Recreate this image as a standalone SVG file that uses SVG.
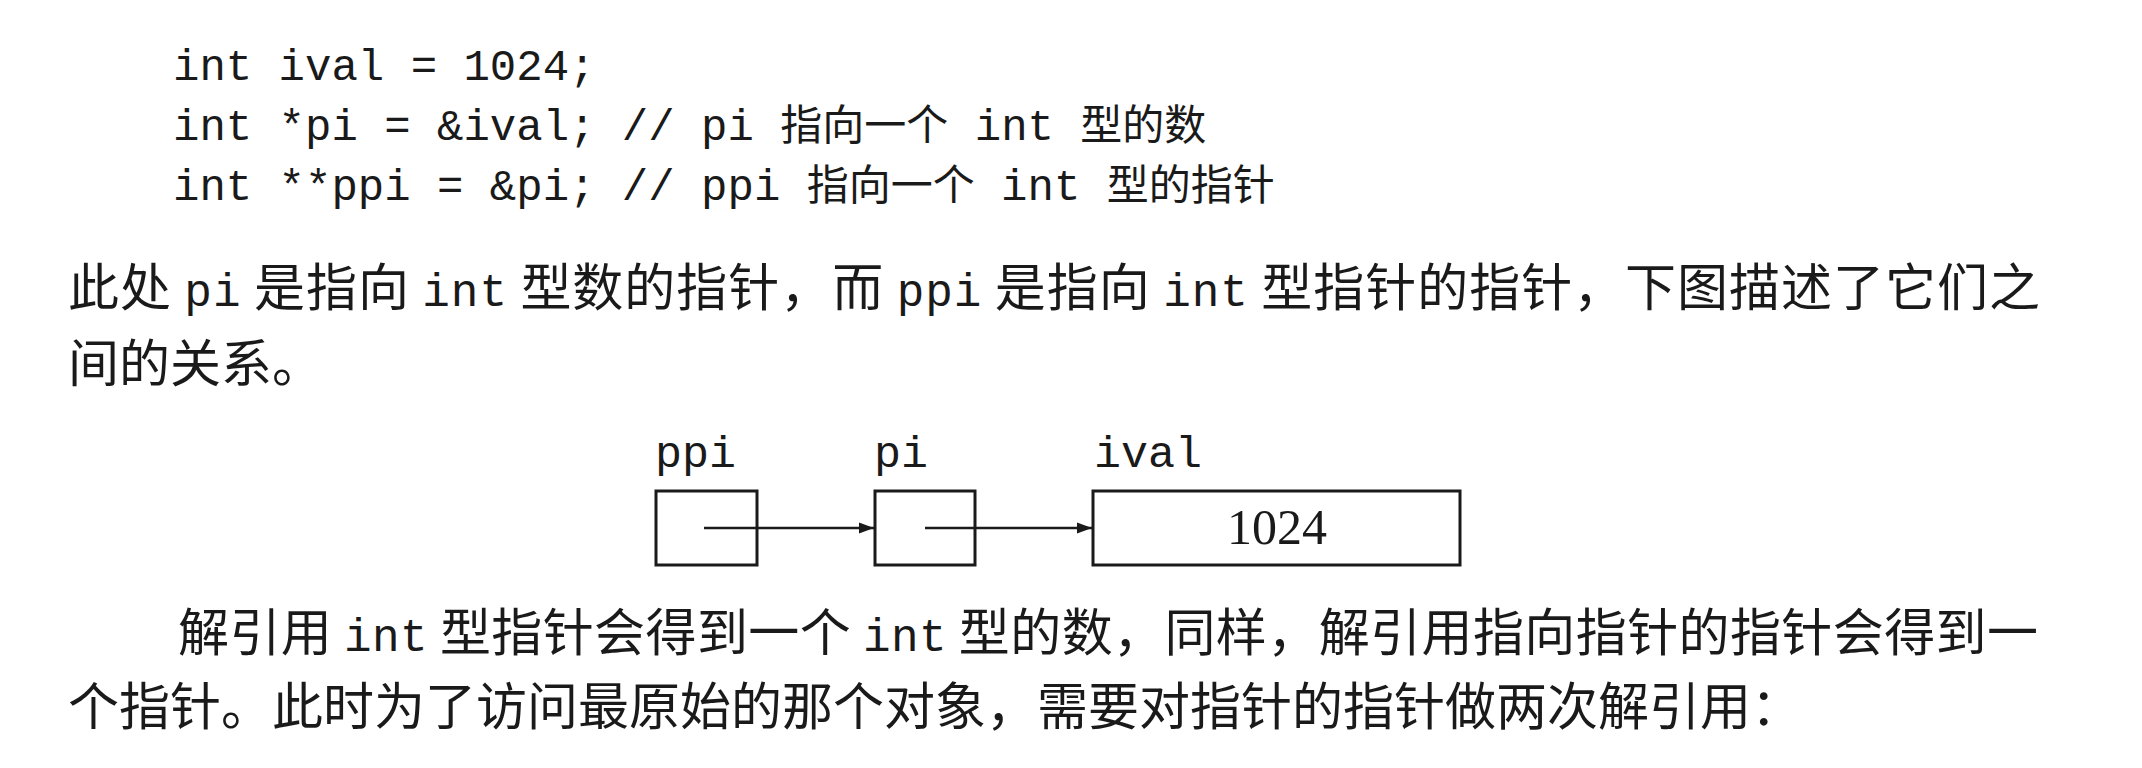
<svg xmlns="http://www.w3.org/2000/svg" width="2142" height="768" viewBox="0 0 2142 768">
  <style>
    .bg { fill: #ffffff; }
    .mono { font-family: "Liberation Mono", "DejaVu Sans Mono", monospace; fill: #1a1a1a; }
    .code { font-size: 44px; }
    .cc { font-family: "Noto Sans CJK SC", sans-serif; font-size: 42px; }
    .para { font-family: "Noto Sans CJK SC", sans-serif; font-size: 51px; fill: #1a1a1a; }
    .pm { font-family: "Liberation Mono", monospace; font-size: 46px; }
    .box { fill: none; stroke: #1a1a1a; stroke-width: 3; }
    .label { font-family: "Liberation Mono", monospace; font-size: 45px; fill: #1a1a1a; }
    .val { font-family: "Liberation Serif", serif; font-size: 50px; fill: #1a1a1a; text-anchor: middle; }
    .conn { stroke: #1a1a1a; stroke-width: 2.5; fill: none; }
  </style>
  <defs>
    <marker id="arrow" markerUnits="userSpaceOnUse" markerWidth="16" markerHeight="12" refX="15" refY="6" orient="auto">
      <path d="M0,0.5 L15,6 L0,11.5 z" fill="#1a1a1a"/>
    </marker>
  </defs>
  <rect class="bg" x="0" y="0" width="2142" height="768"/>

  <g id="code">
    <text class="mono code" x="173" y="80" xml:space="preserve">int ival = 1024;</text>
    <text class="mono code" x="173" y="140" xml:space="preserve">int *pi = &amp;ival; // pi <tspan class="cc">指向一个</tspan> int <tspan class="cc">型的数</tspan></text>
    <text class="mono code" x="173" y="200" xml:space="preserve">int **ppi = &amp;pi; // ppi <tspan class="cc">指向一个</tspan> int <tspan class="cc">型的指针</tspan></text>
  </g>

  <g id="paragraph1">
    <text class="para" x="68" y="306" textLength="1972" lengthAdjust="spacing">此处 <tspan class="pm">pi</tspan> 是指向 <tspan class="pm">int</tspan> 型数的指针，而 <tspan class="pm">ppi</tspan> 是指向 <tspan class="pm">int</tspan> 型指针的指针，下图描述了它们之</text>
    <text class="para" x="68" y="382">间的关系。</text>
  </g>

  <g id="node-ppi">
    <text class="label" x="655" y="467">ppi</text>
    <rect class="box" x="656" y="491" width="101" height="74"/>
  </g>
  <g id="node-pi">
    <text class="label" x="874" y="467">pi</text>
    <rect class="box" x="875" y="491" width="100" height="74"/>
  </g>
  <g id="node-ival">
    <text class="label" x="1094" y="467">ival</text>
    <rect class="box" x="1093" y="491" width="367" height="74"/>
    <text class="val" x="1277" y="544">1024</text>
  </g>

  <g id="connectors">
    <line class="conn" x1="704" y1="528" x2="874" y2="528" marker-end="url(#arrow)"/>
    <line class="conn" x1="925" y1="528" x2="1092" y2="528" marker-end="url(#arrow)"/>
  </g>

  <g id="paragraph2">
    <text class="para" x="178" y="651" textLength="1860" lengthAdjust="spacing">解引用 <tspan class="pm">int</tspan> 型指针会得到一个 <tspan class="pm">int</tspan> 型的数，同样，解引用指向指针的指针会得到一</text>
    <text class="para" x="68" y="725">个指针。此时为了访问最原始的那个对象，需要对指针的指针做两次解引用：</text>
  </g>
</svg>
